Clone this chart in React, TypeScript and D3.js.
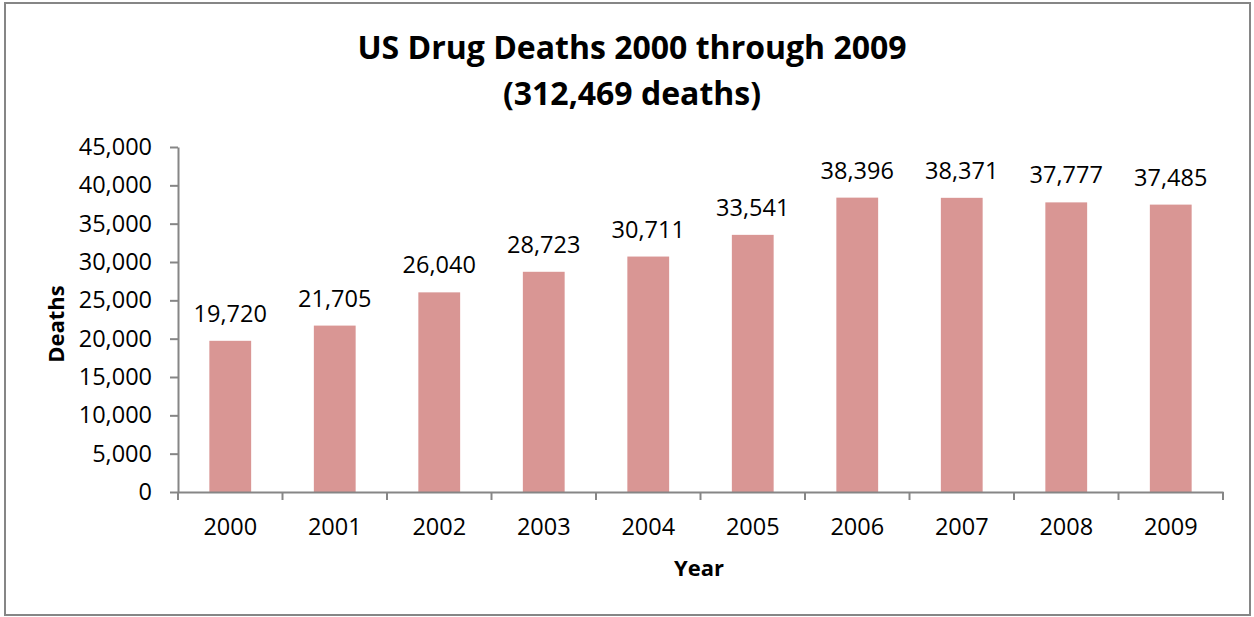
import { useEffect, useRef } from "react";
import { select, scaleBand, scaleLinear, axisLeft, axisBottom, format } from "d3";

const years = ["2000", "2001", "2002", "2003", "2004", "2005", "2006", "2007", "2008", "2009"];
const deaths = [19720, 21705, 26040, 28723, 30711, 33541, 38396, 38371, 37777, 37485];
const yTicks = [0, 5000, 10000, 15000, 20000, 25000, 30000, 35000, 40000, 45000];

const W = 1254;
const H = 617;
const FONT = "'Open Sans', 'Noto Sans', sans-serif";
const TICK_FS = 23.5;

export default function App() {
  const svgRef = useRef<SVGSVGElement>(null);

  useEffect(() => {
    const svg = select(svgRef.current);
    svg.selectAll("*").remove();

    const left = 178;
    const right = 1223;
    const top = 147;
    const bottom = 492;

    const x = scaleBand().domain(years).range([left, right]).padding(0);
    const step = x.step();
    const barW = step * 0.4;
    const y = scaleLinear().domain([0, 45000]).range([bottom, top]);

    svg
      .append("rect")
      .attr("x", 5)
      .attr("y", 3)
      .attr("width", W - 9)
      .attr("height", H - 5)
      .attr("fill", "white")
      .attr("stroke", "#868686")
      .attr("stroke-width", 2);

    // title
    const title = svg
      .append("text")
      .attr("text-anchor", "middle")
      .attr("font-family", FONT)
      .attr("font-weight", "bold")
      .attr("font-size", 32)
      .attr("fill", "black");
    title.append("tspan").attr("x", 632).attr("y", 59).text("US Drug Deaths 2000 through 2009");
    title.append("tspan").attr("x", 632).attr("y", 105).text("(312,469 deaths)");

    // bars
    svg
      .selectAll(".bar")
      .data(deaths)
      .join("rect")
      .attr("class", "bar")
      .attr("x", (_, i) => (x(years[i]) as number) + (step - barW) / 2)
      .attr("width", barW)
      .attr("y", (d) => y(d))
      .attr("height", (d) => bottom - y(d))
      .attr("fill", "#D99694");

    svg
      .selectAll(".lbl")
      .data(deaths)
      .join("text")
      .attr("class", "lbl")
      .attr("x", (_, i) => (x(years[i]) as number) + step / 2)
      .attr("y", (d) => y(d) - 19)
      .attr("text-anchor", "middle")
      .attr("font-family", FONT)
      .attr("font-size", TICK_FS)
      .attr("fill", "black")
      .text((d) => format(",")(d));

    // y axis
    const yAxis = svg
      .append("g")
      .attr("transform", `translate(${left},0)`)
      .call(axisLeft(y).tickValues(yTicks).tickFormat(format(",") as any).tickSize(8).tickSizeOuter(0).tickPadding(18));
    yAxis.select(".domain").attr("stroke", "#868686").attr("stroke-width", 2);
    yAxis.selectAll(".tick line").attr("stroke", "#868686").attr("stroke-width", 2);
    yAxis
      .selectAll(".tick text")
      .attr("font-family", FONT)
      .attr("font-size", TICK_FS)
      .attr("fill", "black");

    // x axis: ticks between categories
    const xAxis = svg
      .append("g")
      .attr("transform", `translate(0,${bottom})`)
      .call(axisBottom(x).tickSize(0).tickPadding(26));
    xAxis.select(".domain").attr("stroke", "#868686").attr("stroke-width", 2);
    xAxis
      .selectAll(".tick text")
      .attr("font-family", FONT)
      .attr("font-size", TICK_FS)
      .attr("fill", "black");
    xAxis
      .selectAll(".sep")
      .data([...years, "end"])
      .join("line")
      .attr("class", "sep")
      .attr("x1", (_, i) => left + i * step)
      .attr("x2", (_, i) => left + i * step)
      .attr("y1", 0)
      .attr("y2", 8)
      .attr("stroke", "#868686")
      .attr("stroke-width", 2);

    // axis titles
    svg
      .append("text")
      .attr("transform", `translate(64,324) rotate(-90)`)
      .attr("text-anchor", "middle")
      .attr("font-family", FONT)
      .attr("font-weight", "bold")
      .attr("font-size", 22)
      .attr("fill", "black")
      .text("Deaths");
    svg
      .append("text")
      .attr("x", 699)
      .attr("y", 576)
      .attr("text-anchor", "middle")
      .attr("font-family", FONT)
      .attr("font-weight", "bold")
      .attr("font-size", 22)
      .attr("fill", "black")
      .text("Year");
  }, []);

  return (
    <svg
      ref={svgRef}
      width={W}
      height={H}
      style={{ position: "absolute", left: 0, top: 0, display: "block" }}
    />
  );
}
